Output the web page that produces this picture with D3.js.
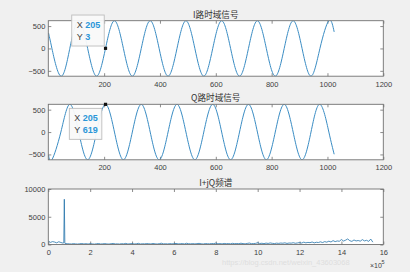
<!DOCTYPE html>
<html>
<head>
<meta charset="utf-8">
<script src="https://cdn.jsdelivr.net/npm/d3@7"></script>
<style>
  html, body { margin: 0; padding: 0; background: #f0f0f0; }
  svg { display: block; }
  .tick text { font-family: "Liberation Sans", Arial, sans-serif; font-size: 7.5px; fill: #404040; }
  .tick line { stroke: #707070; stroke-width: 0.8; }
</style>
</head>
<body>
<script>
// ----- Data -----

// I path: sample index / amplitude at peaks, troughs and zero crossings
const iIndex = [1, 13, 45, 77, 109, 141, 173, 205, 237, 269, 301, 333, 365, 397, 429, 461, 493,
    525, 557, 589, 621, 653, 685, 717, 749, 781, 813, 845, 877, 909, 941, 973, 1005, 1024];
const iValue = [343, 0, -619, 0, 619, 0, -619, 3, 619, 0, -619, 0, 619, 0, -619, 0, 619,
    0, -619, 0, 619, 0, -619, 0, 619, 0, -619, 0, 619, 0, -619, 0, 619, 370];

// Q path
const qIndex = [1, 13, 45, 77, 109, 141, 173, 205, 237, 269, 301, 333, 365, 397, 429, 461, 493,
    525, 557, 589, 621, 653, 685, 717, 749, 781, 813, 845, 877, 909, 941, 973, 1005, 1024];
const qValue = [-514, -619, 0, 619, 0, -619, 0, 619, 0, -619, 0, 619, 0, -619, 0, 619, 0,
    -619, 0, 619, 0, -619, 0, 619, 0, -619, 0, 619, 0, -619, 0, 619, 0, -496];

// data tips
const tipI = { x: 205, y: 3 };
const tipQ = { x: 205, y: 619 };

// I+jQ spectrum, frequency in units of 1e5, one value every 0.1
const specStep = 0.1;
const specMag = [
    620, 380, 520, 440, 300, 500, 360, 250, 180, 140,
    120, 90, 160, 110, 80, 130, 170, 100, 140, 90,
    150, 110, 70, 130, 180, 90, 120, 160, 100, 80,
    140, 190, 100, 120, 80, 150, 110, 200, 90, 130,
    160, 100, 120, 210, 90, 140, 110, 170, 130, 100,
    180, 120, 90, 150, 230, 110, 140, 100, 160, 120,
    140, 190, 110, 130, 170, 100, 220, 140, 120, 160,
    110, 150, 200, 130, 90, 170, 140, 120, 180, 150,
    250, 130, 160, 110, 190, 140, 170, 120, 210, 150,
    180, 140, 230, 160, 120, 190, 260, 150, 170, 200,
    320, 180, 220, 160, 250, 190, 280, 210, 170, 240,
    200, 260, 230, 300, 190, 270, 240, 320, 220, 280,
    350, 260, 420, 300, 380, 330, 450, 290, 400, 360,
    480, 350, 520, 420, 600, 450, 700, 520, 640, 580,
    900, 620, 780, 1000, 680, 560, 820, 640, 720, 600,
    880, 650, 760, 560, 980, 420
];
const specPeakFreq = [0.74, 0.765, 0.79];
const specPeakMag = [300, 8150, 260];

const timeTicksX = [200, 400, 600, 800, 1000, 1200];
const timeTicksY = [-500, 0, 500];
const specTicksX = [0, 2, 4, 6, 8, 10, 12, 14, 16];
const specTicksY = [0, 5000, 10000];

const titles = ["I路时域信号", "Q路时域信号", "I+jQ频谱"];

// ----- Layout -----
const W = 410, H = 272;
const plotL = 48.3, plotR = 383.3, plotH = 55.5;
const tops = [20.7, 104.3, 189];
const lineColor = "#3a8cc3";
const axisColor = "#707070";

function main() {
    const svg = d3.select("body").append("svg")
        .attr("width", W)
        .attr("height", H);

    svg.append("rect").attr("width", W).attr("height", H).attr("fill", "#f0f0f0");

    // watermark (faint, sits under the bottom tick labels)
    svg.append("text")
        .attr("x", 222).attr("y", 264.5)
        .attr("font-family", "Liberation Sans, Arial, sans-serif")
        .attr("font-size", 7.5)
        .attr("fill", "#dedede")
        .text("https://blog.csdn.net/weixin_43603068");

    const timeX = d3.scaleLinear().domain([0, 1200]).range([plotL, plotR]);
    const specX = d3.scaleLinear().domain([0, 16]).range([plotL, plotR]);

    function makeAxes(top, x, y, xTicks, yTicks, idx) {
        const g = svg.append("g");
        g.append("rect")
            .attr("x", plotL).attr("y", top)
            .attr("width", plotR - plotL).attr("height", plotH)
            .attr("fill", "#fff");

        g.append("clipPath").attr("id", "clip" + idx)
            .append("rect")
            .attr("x", plotL).attr("y", top)
            .attr("width", plotR - plotL).attr("height", plotH);

        g.append("g")
            .attr("transform", `translate(0,${top + plotH})`)
            .call(d3.axisBottom(x).tickValues(xTicks).tickSize(-3).tickPadding(5).tickFormat(d3.format("d")));
        g.append("g")
            .attr("transform", `translate(0,${top})`)
            .call(d3.axisTop(x).tickValues(xTicks).tickSize(-3).tickFormat(""));
        g.append("g")
            .attr("transform", `translate(${plotL},0)`)
            .call(d3.axisLeft(y).tickValues(yTicks).tickSize(-3).tickPadding(3).tickFormat(d3.format("d")));
        g.append("g")
            .attr("transform", `translate(${plotR},0)`)
            .call(d3.axisRight(y).tickValues(yTicks).tickSize(-3).tickFormat(""));
        g.selectAll(".domain").remove();

        g.append("text")
            .attr("x", (plotL + plotR) / 2)
            .attr("y", top - 3)
            .attr("text-anchor", "middle")
            .attr("font-family", "Noto Sans CJK SC, sans-serif")
            .attr("font-size", 8.6)
            .attr("fill", "#333")
            .text(titles[idx]);

        const plot = svg.append("g").attr("clip-path", `url(#clip${idx})`);
        return { g, plot };
    }

    function drawBox(top) {
        svg.append("rect")
            .attr("x", plotL).attr("y", top)
            .attr("width", plotR - plotL).attr("height", plotH)
            .attr("fill", "none")
            .attr("stroke", axisColor)
            .attr("stroke-width", 0.9);
    }

    function drawTip(px, py, dx, dy, d) {
        svg.append("rect")
            .attr("x", px - 1.6).attr("y", py - 1.6)
            .attr("width", 3.2).attr("height", 3.2)
            .attr("fill", "#111");
        const tip = svg.append("g").attr("transform", `translate(${px + dx},${py + dy})`);
        tip.append("rect")
            .attr("width", 32.5).attr("height", 31)
            .attr("fill", "#f9f9f9")
            .attr("fill-opacity", 0.95)
            .attr("stroke", "#bdbdbd")
            .attr("stroke-width", 0.9);
        [["X", d.x], ["Y", d.y]].forEach(([k, v], i) => {
            tip.append("text")
                .attr("x", 5).attr("y", 13 + i * 11.5)
                .attr("font-family", "Liberation Sans, Arial, sans-serif")
                .attr("font-size", 9)
                .attr("fill", "#404040")
                .text(k);
            tip.append("text")
                .attr("x", 13.5).attr("y", 13 + i * 11.5)
                .attr("font-family", "Liberation Sans, Arial, sans-serif")
                .attr("font-size", 9)
                .attr("font-weight", "bold")
                .attr("fill", "#2b96d8")
                .text(v);
        });
    }

    // ----- I path -----
    const yI = d3.scaleLinear().domain([-620, 620]).range([tops[0] + plotH, tops[0]]);
    const axI = makeAxes(tops[0], timeX, yI, timeTicksX, timeTicksY, 0);
    const lineI = d3.line()
        .x((d, i) => timeX(iIndex[i]))
        .y(d => yI(d))
        .curve(d3.curveNatural);
    axI.plot.append("path")
        .attr("d", lineI(iValue))
        .attr("fill", "none")
        .attr("stroke", lineColor)
        .attr("stroke-width", 1);
    drawBox(tops[0]);

    // ----- Q path -----
    const yQ = d3.scaleLinear().domain([-620, 620]).range([tops[1] + plotH, tops[1]]);
    const axQ = makeAxes(tops[1], timeX, yQ, timeTicksX, timeTicksY, 1);
    const lineQ = d3.line()
        .x((d, i) => timeX(qIndex[i]))
        .y(d => yQ(d))
        .curve(d3.curveNatural);
    axQ.plot.append("path")
        .attr("d", lineQ(qValue))
        .attr("fill", "none")
        .attr("stroke", lineColor)
        .attr("stroke-width", 1);
    drawBox(tops[1]);

    // ----- spectrum -----
    const yS = d3.scaleLinear().domain([0, 10000]).range([tops[2] + plotH, tops[2]]);
    const axS = makeAxes(tops[2], specX, yS, specTicksX, specTicksY, 2);
    const specPoints = specMag.map((m, i) => [i * specStep, m])
        .concat(specPeakFreq.map((f, i) => [f, specPeakMag[i]]))
        .sort((a, b) => a[0] - b[0]);
    const lineS = d3.line()
        .x(d => specX(d[0]))
        .y(d => yS(d[1]));
    axS.plot.append("path")
        .attr("d", lineS(specPoints))
        .attr("fill", "none")
        .attr("stroke", "#2573ab")
        .attr("stroke-width", 0.8);
    drawBox(tops[2]);

    // exponent label: base and superscript as separate texts
    svg.append("text")
        .attr("x", 370).attr("y", 267.5)
        .attr("font-family", "Liberation Sans, Arial, sans-serif")
        .attr("font-size", 7)
        .attr("fill", "#404040")
        .text("×10");
    svg.append("text")
        .attr("x", 381.5).attr("y", 263.5)
        .attr("font-family", "Liberation Sans, Arial, sans-serif")
        .attr("font-size", 5.5)
        .attr("fill", "#404040")
        .text("5");

    // data tips
    drawTip(timeX(tipI.x), yI(tipI.y), -33.8, -33.3, tipI);
    drawTip(timeX(tipQ.x), yQ(tipQ.y), -36.2, 4, tipQ);
}

main();
</script>
</body>
</html>
